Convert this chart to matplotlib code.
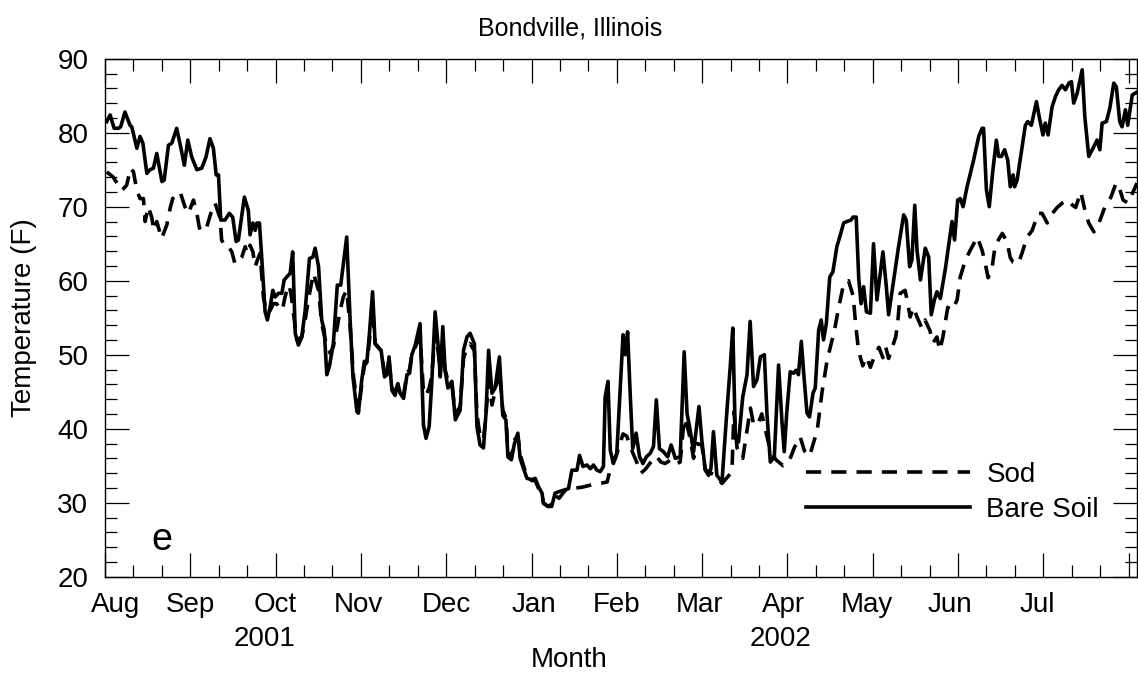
import matplotlib
matplotlib.use("Agg")
import matplotlib.pyplot as plt
from matplotlib.ticker import MultipleLocator
from matplotlib.transforms import blended_transform_factory

plt.rcParams['font.family'] = ['Liberation Sans', 'DejaVu Sans']

##------------------------------------------
# daily soil temperature, Bondville IL, Aug 2001 - Jul 2002
# x = day index from 1 Aug 2001, y = temperature (F)
bare_day = [0.6, 1.8, 3.2, 4.7, 5.5, 7.0, 8.8, 9.4, 11.2, 12.3, 13.3, 14.7, 15.8, 17.0, 18.2,
            20.0, 20.8, 22.3, 23.5, 25.2, 26.7, 27.9, 29.1, 30.5, 32.3, 34.0, 35.5, 36.9, 38.1,
            39.1, 39.9, 40.7, 42.2, 43.7, 44.9, 46.1, 46.9, 49.0, 50.4, 51.0, 52.0, 52.8, 53.4,
            54.3, 55.1, 56.3, 57.1, 58.1, 59.0, 59.8, 61.0, 62.2, 63.0, 63.9, 65.1, 66.0, 66.9,
            68.0, 69.2, 70.4, 71.9, 73.1, 73.9, 75.1, 76.2, 77.1, 78.0, 78.9, 80.3, 81.7, 82.9,
            85.0, 86.2, 87.2, 88.6, 89.1, 90.3, 91.2, 92.1, 92.9, 94.1, 95.0, 96.2, 97.1, 98.3,
            99.1, 99.9, 100.9, 102.0, 103.0, 103.8, 105.0, 106.2, 107.1, 107.9, 109.1, 110.8,
            112.0, 112.9, 114.0, 114.9, 116.1, 117.3, 117.9, 118.8, 119.6, 120.6, 122.0, 123.2,
            124.9, 126.1, 127.3, 128.4, 129.9, 130.8, 131.9, 133.1, 134.0, 134.9, 136.1, 137.2,
            138.7, 139.9, 141.0, 141.7, 142.9, 144.0, 145.2, 146.0, 147.2, 148.4, 150.1, 151.3,
            152.4, 153.7, 154.2, 155.8, 157.1, 158.3, 159.7, 161.3, 163.0, 164.2, 166.0, 166.9,
            168.1, 169.5, 170.7, 171.8, 173.0, 174.2, 175.3, 175.9, 176.9, 177.7, 178.8, 180.0,
            182.2, 183.0, 183.8, 184.7, 185.6, 186.8, 188.0, 189.2, 190.4, 191.8, 192.9, 193.9,
            195.0, 196.4, 197.9, 199.1, 200.6, 202.3, 203.7, 204.7, 205.8, 207.0, 207.9, 208.9,
            209.9, 211.1, 212.3, 213.1, 214.0, 215.2, 217.0, 218.5, 219.9, 220.8, 221.7, 222.8,
            224.3, 225.8, 226.9, 228.1, 229.3, 230.5, 231.9, 232.8, 234.0, 235.4, 236.9, 238.1,
            238.9, 239.8, 241.0, 242.2, 243.1, 243.9, 244.9, 245.7, 246.9, 247.8, 249.0, 249.8,
            251.0, 251.9, 252.7, 253.7, 254.9, 256.0, 257.4, 258.4, 259.8, 260.9, 262.4, 263.1,
            264.2, 265.1, 265.9, 266.8, 267.8, 269.2, 270.3, 271.5, 273.6, 274.8, 275.6, 277.4,
            279.1, 280.9, 281.8, 283.0, 283.8, 284.8, 285.6, 286.8, 288.5, 289.7, 290.6, 291.7,
            292.6, 293.8, 295.6, 297.9, 298.8, 299.9, 300.8, 301.8, 303.2, 305.5, 307.3, 308.5,
            309.0, 310.0, 311.0, 312.3, 313.5, 314.3, 315.3, 316.4, 317.5, 318.4, 319.4, 319.9,
            320.8, 322.2, 323.7, 324.5, 325.8, 327.6, 328.7, 329.9, 330.7, 331.7, 333.1, 334.3,
            335.4, 336.6, 337.8, 339.0, 339.9, 340.7, 341.9, 343.7, 344.6, 346.0, 347.5, 348.9,
            349.9, 350.7, 352.2, 353.4, 354.8, 355.7, 356.9, 357.7, 358.9, 359.7, 361.3, 363.0]
bare_temp = [81.5, 82.4, 80.6, 80.6, 80.8, 82.8, 81.0, 80.8, 77.9, 79.5, 78.6, 74.5, 75.0, 75.2, 77.2,
             73.4, 73.6, 78.3, 78.6, 80.6, 77.9, 75.6, 79.0, 76.7, 75.0, 75.2, 76.7, 79.2, 77.9,
             74.3, 74.3, 68.2, 68.2, 69.1, 68.6, 65.3, 65.5, 71.3, 69.5, 66.2, 67.8, 66.8, 67.8,
             67.8, 63.2, 55.8, 54.7, 56.5, 58.7, 57.8, 58.3, 58.3, 60.1, 60.5, 61.0, 63.9, 52.9,
             51.3, 52.4, 56.0, 63.0, 63.2, 64.4, 61.9, 54.7, 53.3, 47.3, 48.4, 51.5, 59.4, 59.4,
             65.9, 54.7, 47.0, 42.3, 42.1, 46.6, 49.1, 49.1, 52.4, 58.5, 51.5, 50.9, 50.6, 47.0,
             47.3, 49.7, 45.2, 44.5, 46.1, 44.8, 44.1, 47.3, 47.5, 50.0, 51.3, 54.2,
             40.5, 38.7, 40.3, 46.1, 55.8, 50.6, 47.0, 53.8, 47.9, 45.5, 46.4, 41.2,
             42.5, 50.6, 52.4, 52.9, 51.5, 40.3, 37.8, 37.4, 42.1, 50.6, 44.8, 45.5,
             49.7, 41.8, 41.2, 36.2, 35.8, 38.0, 39.4, 36.0, 34.6, 33.3, 33.1, 33.3,
             32.2, 31.3, 29.9, 29.5, 29.5, 31.3, 31.5, 31.7, 31.9, 34.4, 34.4, 36.4,
             34.9, 35.1, 34.6, 35.1, 34.4, 34.2, 34.9, 44.3, 46.4, 37.1, 35.3, 36.7,
             52.7, 50.0, 53.1, 44.8, 37.3, 39.4, 36.2, 35.3, 36.2, 36.7, 37.6, 43.9,
             37.3, 36.9, 36.2, 37.8, 36.0, 36.2, 50.4, 42.1, 39.8, 36.9, 39.8, 43.0,
             38.5, 34.4, 33.7, 34.6, 39.6, 33.7, 32.8, 41.2, 48.4, 53.6, 38.9, 38.2,
             44.3, 47.3, 54.5, 45.7, 46.6, 49.7, 50.0, 42.1, 35.5, 36.2, 48.6, 40.9,
             36.9, 42.3, 47.7, 47.5, 47.9, 47.3, 51.8, 47.7, 42.1, 41.6, 44.8, 45.5,
             53.3, 54.7, 52.0, 54.2, 60.5, 61.2, 64.6, 65.9, 67.8, 68.0, 68.2, 68.6,
             68.6, 60.3, 56.9, 59.2, 55.8, 55.6, 65.0, 57.4, 63.9, 59.2, 55.4, 60.1,
             64.6, 68.9, 68.2, 61.9, 62.8, 70.2, 64.1, 60.1, 64.4, 63.2, 55.4, 57.4,
             58.5, 57.6, 61.7, 68.0, 65.5, 70.9, 71.1, 70.0, 72.7, 76.3, 79.5, 80.6,
             80.6, 72.3, 70.0, 75.0, 79.0, 76.8, 76.8, 77.7, 76.3, 72.7, 74.3, 72.7,
             73.6, 77.2, 81.0, 81.5, 81.0, 84.2, 81.9, 79.7, 81.3, 79.7, 83.5, 84.9,
             85.8, 86.4, 85.8, 86.7, 86.9, 84.0, 85.3, 88.5, 82.2, 76.8, 77.9, 79.0,
             77.7, 81.3, 81.5, 83.3, 86.7, 86.2, 81.5, 80.8, 83.1, 81.0, 85.1, 85.5]

sod_day = [0.6, 2.9, 3.5, 5.9, 7.6, 9.0, 10.0, 11.2, 12.3, 13.5, 14.1, 15.2, 16.4, 17.2, 18.2,
           19.9, 21.7, 22.9, 23.8, 26.4, 28.1, 29.3, 31.1, 32.3, 33.2, 34.6, 35.8, 37.2, 38.7,
           40.5, 41.0, 42.2, 43.4, 44.6, 45.7, 46.9, 48.1, 49.3, 50.1, 51.0, 52.0, 52.8, 53.6,
           54.5, 55.7, 56.9, 58.1, 59.2, 60.4, 61.6, 62.5, 63.3, 64.5, 65.3, 66.0, 67.4, 69.2,
           70.4, 71.5, 73.3, 75.1, 76.2, 78.0, 79.2, 80.3, 81.7, 82.7, 83.8, 85.0, 86.2, 87.4,
           89.1, 90.3, 91.2, 92.1, 92.9, 94.1, 95.0, 96.2, 97.1, 98.3, 99.1, 99.9, 100.9, 102.0,
           103.0, 103.8, 105.0, 106.2, 107.1, 107.9, 109.1, 110.8, 112.0, 112.9, 114.0, 114.9,
           116.1, 117.3, 117.9, 118.8, 119.6, 120.6, 122.0, 123.2, 124.9, 126.1, 127.3, 128.4,
           129.9, 130.8, 131.9, 133.1, 134.0, 134.9, 136.1, 137.2, 138.7, 139.9, 141.0, 141.7,
           142.9, 144.0, 145.2, 146.0, 147.2, 148.4, 150.1, 151.3, 152.4, 153.7, 154.2, 155.8,
           157.1, 158.3, 159.7, 161.9, 164.0, 167.8, 171.0, 174.0, 176.6, 178.0, 179.5, 182.2,
           183.5, 185.0, 187.0, 188.5, 190.0, 191.8, 193.9, 195.5, 197.0, 199.0, 200.6, 202.3,
           203.7, 205.0, 205.8, 207.0, 208.3, 209.9, 211.1, 212.3, 215.2, 217.0, 219.0, 220.5,
           221.2, 222.3, 224.3, 225.8, 227.0, 228.1, 229.5, 231.0, 232.5, 234.0, 236.0, 238.5,
           240.5, 242.5, 244.5, 246.0, 247.8, 249.5, 250.5, 252.2, 254.0, 256.5, 258.0, 259.8,
           261.5, 263.1, 264.0, 265.0, 266.5, 267.8, 269.2, 271.0, 272.2, 273.6, 274.6, 275.6,
           278.1, 278.8, 279.7, 281.4, 282.1, 283.2, 284.3, 285.6, 287.3, 288.4, 290.1, 291.2,
           292.6, 293.6, 294.7, 296.4, 297.9, 299.7, 300.8, 302.6, 304.3, 306.8, 308.5, 309.6,
           310.6, 312.0, 313.1, 315.6, 317.3, 318.4, 319.4, 321.2, 322.5, 324.3, 326.1, 328.2,
           329.6, 331.4, 333.2, 334.9, 336.7, 338.5, 340.3, 341.4, 343.2, 344.9, 346.0, 347.8,
           349.6, 351.3, 353.8, 355.6, 356.6, 358.1, 359.8, 361.6, 363.0]
sod_temp = [74.7, 74.0, 73.6, 72.2, 72.9, 75.2, 74.7, 72.2, 71.1, 71.1, 68.0, 70.0, 68.6, 66.8, 68.0,
            65.7, 67.5, 69.8, 71.1, 72.0, 70.0, 69.1, 70.9, 69.1, 67.1, 67.8, 67.3, 69.1, 70.5,
            68.4, 65.5, 64.6, 64.6, 63.9, 62.3, 62.6, 63.2, 64.6, 63.7, 64.8, 63.9, 61.9, 62.8,
            63.7, 57.8, 55.6, 56.0, 56.9, 56.9, 56.0, 56.3, 57.8, 59.4, 58.5, 56.5, 52.0, 52.4,
            54.7, 57.4, 61.0, 58.7, 54.2, 51.1, 50.2, 51.1, 53.8, 56.0, 57.8, 58.7, 53.8, 47.0,
            42.3, 46.0, 48.5, 49.0, 51.5, 56.5, 51.5, 51.0, 50.5, 47.5, 47.5, 49.0, 45.5, 45.0,
            46.0, 45.0, 44.5, 47.5, 48.0, 50.0, 51.0, 52.5, 45.0, 44.5, 45.5, 47.0,
            53.0, 50.0, 47.5, 51.5, 48.0, 46.5, 46.0, 42.0, 43.0, 49.5, 51.0, 51.5,
            50.5, 42.0, 39.0, 38.5, 42.0, 46.5, 43.2, 45.0, 48.0, 42.5, 41.5, 37.0,
            36.0, 38.5, 39.0, 36.5, 35.0, 33.5, 33.0, 33.0, 32.0, 31.0, 30.0, 29.5,
            29.8, 31.0, 30.6, 31.7, 31.9, 32.1, 32.4, 32.6, 32.8, 35.0, 36.0, 39.3,
            39.0, 37.3, 35.5, 34.0, 34.5, 35.4, 36.3, 35.5, 35.3, 35.8, 35.2, 35.5,
            41.4, 40.0, 38.7, 36.0, 38.0, 37.8, 34.5, 34.2, 33.5, 32.6, 33.5, 34.2,
            42.3, 37.4, 36.0, 39.8, 42.8, 40.6, 40.5, 42.0, 39.5, 37.0, 35.8, 35.0,
            35.5, 37.5, 38.9, 37.0, 36.3, 38.5, 39.8, 45.0, 49.3, 53.2, 56.3, 59.6,
            60.0, 58.0, 54.2, 50.6, 48.5, 49.7, 48.3, 50.2, 51.0, 49.6, 51.0, 49.5,
            52.4, 54.3, 58.3, 58.7, 57.4, 55.1, 56.4, 55.1, 53.6, 54.7, 53.3, 51.6,
            52.4, 50.6, 52.4, 56.4, 56.0, 57.4, 60.5, 62.8, 64.1, 65.9, 64.1, 62.3,
            60.4, 61.8, 64.8, 66.4, 65.2, 63.1, 62.5, 62.3, 63.7, 65.9, 66.8, 69.1,
            69.1, 67.8, 69.1, 69.9, 70.5, 70.9, 70.2, 69.9, 72.0, 69.1, 67.8, 66.6,
            67.8, 69.6, 71.3, 73.2, 72.7, 70.9, 70.5, 72.0, 73.2]

month_names = ['Aug', 'Sep', 'Oct', 'Nov', 'Dec', 'Jan', 'Feb', 'Mar', 'Apr', 'May', 'Jun', 'Jul']
month_pos = [3.7, 30, 60, 89, 120, 151, 180, 209, 238.5, 268, 297, 328]
year_names = ['2001', '2002']
year_pos = [56, 237.5]

#------------------------------------------------------------
fig = plt.figure(figsize=(11.38, 6.75), dpi=100)
ax = fig.add_axes([0.0923, 0.1456, 0.9069, 0.7674])

ax.plot(sod_day, sod_temp, color='black', lw=2.6, ls=(0, (4.2, 2.8)), label='Sod')
ax.plot(bare_day, bare_temp, color='black', lw=2.6, solid_joinstyle='round', label='Bare Soil')

ax.set_xlim(0, 363)
ax.set_ylim(20, 90)
ax.xaxis.set_major_locator(MultipleLocator(30))
ax.xaxis.set_minor_locator(MultipleLocator(10))
ax.yaxis.set_major_locator(MultipleLocator(10))
ax.yaxis.set_minor_locator(MultipleLocator(2))
ax.tick_params(which='both', direction='in', top=True, right=True, labelsize=20, width=0.9)
ax.tick_params(which='major', length=17)
ax.tick_params(which='minor', length=8.5)
ax.tick_params(axis='x', labelbottom=False)
ax.tick_params(axis='y', pad=12)
for sp in ax.spines.values():
    sp.set_linewidth(1.0)

trans = blended_transform_factory(ax.transData, fig.transFigure)
for name, pos in zip(month_names, month_pos):
    ax.text(pos, 0.1035, name, transform=trans, ha='center', va='center', fontsize=20)
for name, pos in zip(year_names, year_pos):
    ax.text(pos, 0.0533, name, transform=trans, ha='center', va='center', fontsize=20)
ax.text(163.3, 0.0222, 'Month', transform=trans, ha='center', va='center', fontsize=20)

fig.text(570 / 1138, 0.9585, 'Bondville, Illinois', ha='center', va='center', fontsize=18)
fig.text(24 / 1138, 0.53, 'Temperature (F)', rotation=90, ha='center', va='center', fontsize=20)
ax.text(0.055, 0.07, 'e', transform=ax.transAxes, ha='center', va='center', fontsize=27)

ax.legend(loc='upper left', bbox_to_anchor=(0.679, 0.222), frameon=False, fontsize=20,
          handlelength=5.9, handletextpad=0.6, labelspacing=0.32, borderpad=0, borderaxespad=0)

fig.savefig('out.png', dpi=100)
